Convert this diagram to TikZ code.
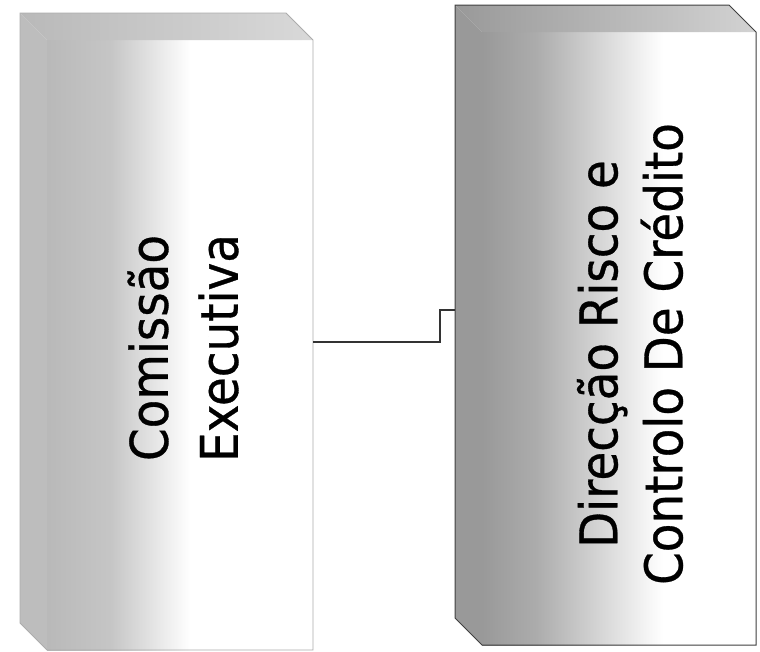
\documentclass[tikz,border=0pt]{standalone}
\usepackage{fontspec}
\setmainfont{DejaVu Sans}[FakeStretch=0.9,FakeBold=0.6]
\usetikzlibrary{calc,positioning}
\pgfdeclarehorizontalshading{paleface}{100bp}{color(0bp)=(gray!55); color(25bp)=(gray!55); color(37bp)=(gray!45); color(52bp)=(white); color(100bp)=(white)}
\pgfdeclarehorizontalshading{darkface}{100bp}{color(0bp)=(gray!80); color(25bp)=(gray!80); color(35bp)=(gray!65); color(58bp)=(white); color(100bp)=(white)}
\begin{document}
\begin{tikzpicture}[
  x=1pt,y=-1pt,
  box/.style={inner sep=0pt,outer sep=0pt},
  label/.style={rotate=90,align=center,inner sep=0pt,text=black},
  link/.style={draw=black!80,line width=2.6pt},
  depth/.style={shift={(-27,-27)}}
]
\useasboundingbox (0,0) rectangle (760,651);
\node[box,shading=paleface,minimum width=266pt,minimum height=610pt] (ce) at (180,345) {};
\node[box,shading=darkface,minimum width=274pt,minimum height=613pt] (dr) at (619,338.5) {};
% top and side faces
\shade[left color=gray!55,right color=gray!30] ([depth]ce.north west) -- ([depth]ce.north east) -- (ce.north east) -- (ce.north west) -- cycle;
\fill[gray!52] ([depth]ce.north west) -- (ce.north west) -- (ce.south west) -- ([depth]ce.south west) -- cycle;
\shade[left color=gray!80,right color=gray!35] ([depth]dr.north west) -- ([depth]dr.north east) -- (dr.north east) -- (dr.north west) -- cycle;
\fill[gray!80] ([depth]dr.north west) -- (dr.north west) -- (dr.south west) -- ([depth]dr.south west) -- cycle;
\draw[gray!65,line width=0.8pt] ([depth]ce.north west) -- ([depth]ce.north east) -- (ce.north east) -- (ce.south east) -- (ce.south west) -- ([depth]ce.south west) -- cycle;
\draw[black!75,line width=1pt] ([depth]dr.north west) -- ([depth]dr.north east) -- (dr.north east) -- (dr.south east) -- (dr.south west) -- ([depth]dr.south west) -- cycle;
\node[label,font=\fontsize{52}{70}\selectfont] (ce-text) at (183,348) {Comissão\\Executiva};
\node[label,font=\fontsize{52}{65}\selectfont] (dr-text) at (630,354) {Direcção Risco e\\Controlo De Crédito};
\coordinate (bend) at (440,342);
\coordinate (dr-side) at (455,310);
\draw[link] (ce.east |- bend) -- (bend) |- (dr-side);
\end{tikzpicture}
\end{document}
